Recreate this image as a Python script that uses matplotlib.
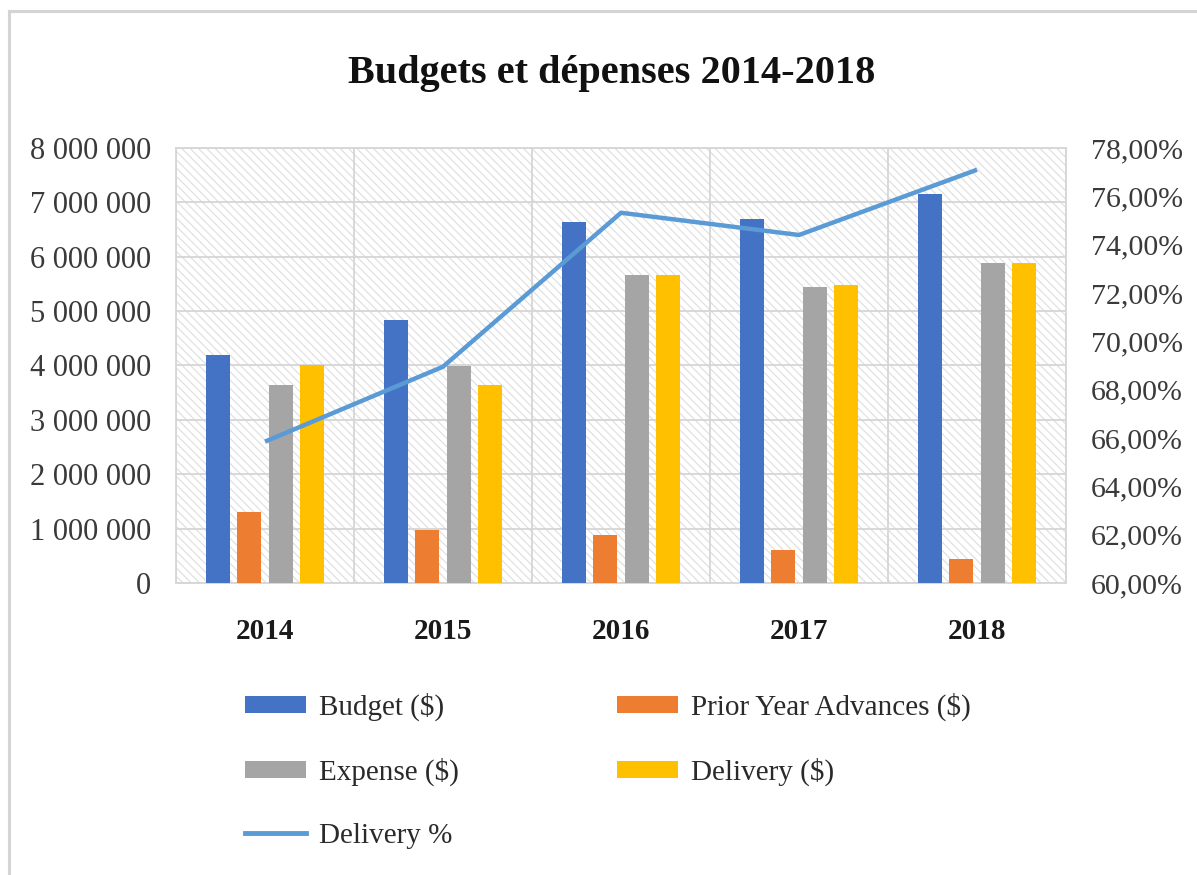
import matplotlib
matplotlib.use("Agg")
import matplotlib.pyplot as plt
from matplotlib.patches import Rectangle, Patch
from matplotlib.lines import Line2D
from matplotlib.ticker import FuncFormatter, MultipleLocator
import numpy as np

years = ["2014", "2015", "2016", "2017", "2018"]
budget = [4200000, 4830000, 6640000, 6700000, 7160000]
prior_adv = [1310000, 970000, 890000, 610000, 450000]
expense = [3640000, 3990000, 5670000, 5450000, 5880000]
delivery = [4010000, 3640000, 5660000, 5480000, 5890000]
delivery_pct = [65.85, 68.95, 75.32, 74.40, 77.10]

bar_series = [
    ("Budget ($)", budget, "#4472C4"),
    ("Prior Year Advances ($)", prior_adv, "#ED7D31"),
    ("Expense ($)", expense, "#A5A5A5"),
    ("Delivery ($)", delivery, "#FFC000"),
]
line_label = "Delivery %"
line_color = "#5B9BD5"

serif = ["Liberation Serif", "DejaVu Serif"]
plt.rcParams["font.family"] = serif
plt.rcParams["hatch.linewidth"] = 0.8
plt.rcParams["hatch.color"] = "#dedede"

W, H = 1197, 875
fig = plt.figure(figsize=(W / 100, H / 100), dpi=100)
fig.patch.set_facecolor("white")

L, R, T, B = 176, 1066, 148, 583
ax = fig.add_axes([L / W, 1 - B / H, (R - L) / W, (B - T) / H])
ax.set_facecolor("white")
bg = Rectangle((0, 0), 1, 1, transform=ax.transAxes, facecolor="white",
               edgecolor="#dedede", hatch="\\\\\\\\", lw=0, zorder=0)
ax.add_patch(bg)

x = np.arange(len(years))
slot = 0.176
bw = 0.135
for i, (lab, vals, col) in enumerate(bar_series):
    ax.bar(x + (i - 1.5) * slot, vals, width=bw, color=col, zorder=3, label=lab)

ax.set_xlim(-0.5, len(years) - 0.5)
ax.set_ylim(0, 8000000)
ax.yaxis.set_major_locator(MultipleLocator(1000000))
ax.yaxis.set_major_formatter(FuncFormatter(lambda v, p: f"{int(round(v)):,}".replace(",", " ")))
ax.set_xticks(x)
ax.set_xticklabels(years, fontsize=21, fontweight="bold", color="#1a1a1a")
ax.set_xticks(np.arange(-0.5, len(years), 1.0), minor=True)
ax.grid(axis="y", which="major", color="#d6d6d6", lw=1.3, zorder=1)
ax.grid(axis="x", which="minor", color="#d6d6d6", lw=1.3, zorder=1)
ax.grid(axis="x", which="major", visible=False)
ax.tick_params(axis="y", which="both", length=0, pad=18, labelsize=22, labelcolor="#3a3a3a")
ax.tick_params(axis="x", which="both", length=0, pad=25)
for s in ax.spines.values():
    s.set_color("#d6d6d6")
    s.set_linewidth(1.3)

ax2 = ax.twinx()
ax2.plot(x, delivery_pct, color=line_color, lw=3.2, zorder=5, label=line_label,
         solid_capstyle="butt")
ax2.set_ylim(60, 78)
ax2.yaxis.set_major_locator(MultipleLocator(2))
ax2.yaxis.set_major_formatter(FuncFormatter(lambda v, p: f"{v:.2f}".replace(".", ",") + "%"))
ax2.tick_params(axis="y", length=0, pad=18, labelsize=21.5, labelcolor="#3a3a3a")
for s in ax2.spines.values():
    s.set_visible(False)

fig.text(612 / W, 1 - 73 / H, "Budgets et dépenses 2014-2018", ha="center", va="center",
         fontsize=29, fontweight="bold", color="#111111")

handles = [
    Patch(facecolor=bar_series[0][2], label=bar_series[0][0]),
    Patch(facecolor=bar_series[2][2], label=bar_series[2][0]),
    Line2D([0], [0], color=line_color, lw=3.5, label=line_label),
    Patch(facecolor=bar_series[1][2], label=bar_series[1][0]),
    Patch(facecolor=bar_series[3][2], label=bar_series[3][0]),
]
leg = fig.legend(handles=handles, loc="upper left", bbox_to_anchor=(245 / W, 1 - 693 / H),
                 ncol=2, frameon=False, fontsize=21, handlelength=2.1, handleheight=0.55,
                 handletextpad=0.45, columnspacing=5.4, labelspacing=1.25,
                 borderpad=0, borderaxespad=0)
for t in leg.get_texts():
    t.set_color("#2a2a2a")

fig.add_artist(Line2D([9 / W, 1.0], [1 - 11 / H, 1 - 11 / H], transform=fig.transFigure,
                      color="#d4d4d4", lw=2.2))
fig.add_artist(Line2D([9 / W, 9 / W], [0.0, 1 - 11 / H], transform=fig.transFigure,
                      color="#d4d4d4", lw=2.2))

fig.savefig("out.png", dpi=100, facecolor="white")
